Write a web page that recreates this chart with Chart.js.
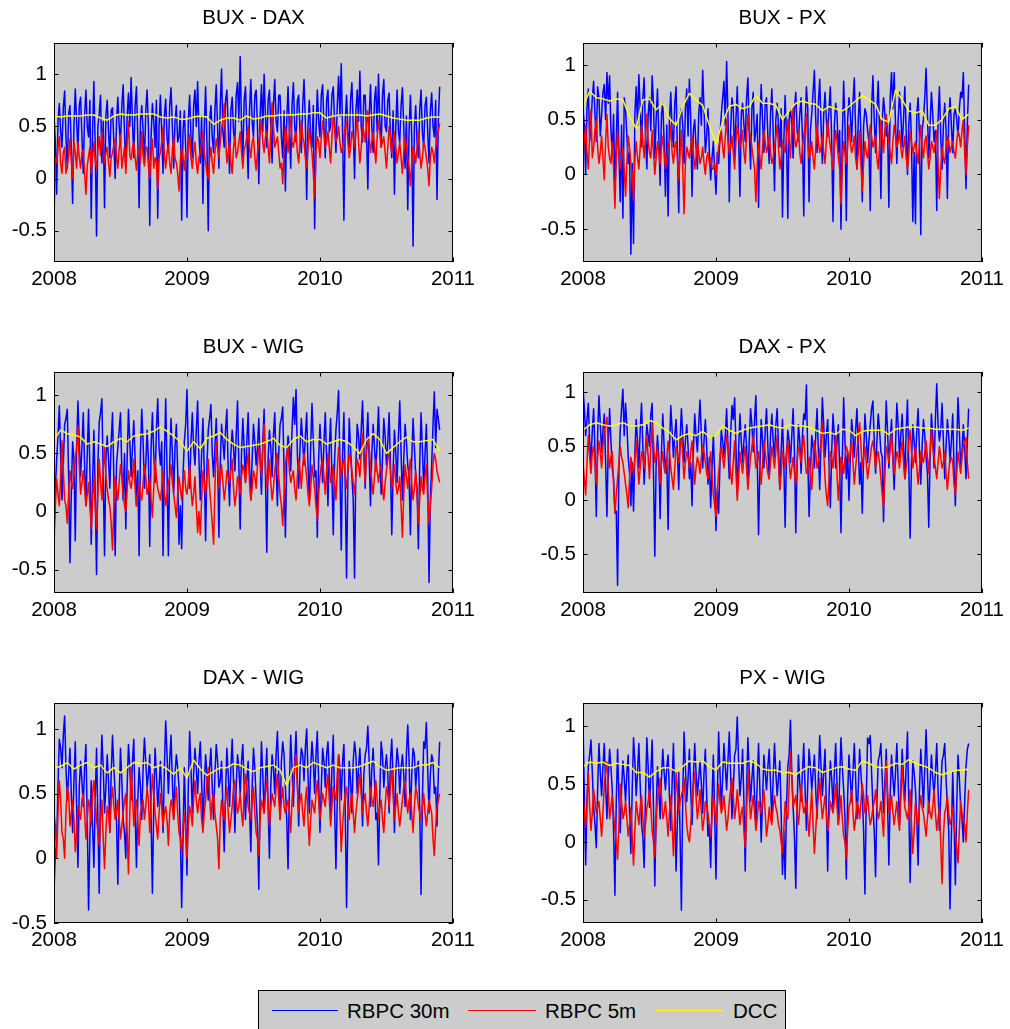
<!DOCTYPE html>
<html>
<head>
<meta charset="utf-8">
<title>RBPC vs DCC</title>
<script src="https://cdn.jsdelivr.net/npm/chart.js@4.4.1/dist/chart.umd.min.js"></script>
<style>
  html, body { margin: 0; padding: 0; background: #fff; width: 1010px; height: 1029px; overflow: hidden; }
  canvas { position: absolute; }
  #legend { position: absolute; left: 258px; top: 990px; width: 526px; height: 38px; border: 1px solid #000; background: #cccccc;
            font-family: "Liberation Sans", Arial, sans-serif; font-size: 20.5px; color: #000; }
  #legend .ln { position: absolute; top: 19px; height: 0; border-top: 1px solid; }
  #legend .tx { position: absolute; top: 8px; line-height: 24px; white-space: nowrap; }
</style>
</head>
<body>
<div id="legend"></div>
<script>
const yearTicks = [2008, 2009, 2010, 2011];
const corrTicks = [-0.5, 0, 0.5, 1];
const seriesNames = ['RBPC 30m', 'RBPC 5m', 'DCC'];
const seriesColors = ['#0000ff', '#ff0000', '#ffff00'];
const pairTitles = ['BUX - DAX', 'BUX - PX', 'BUX - WIG', 'DAX - PX', 'DAX - WIG', 'PX - WIG'];

// sample dates in fractional years: realized series read every 0.01 yr
// (main reads on even hundredths, mid reads in between), DCC every 0.05 yr
const rbpcDates = Array.from({length: 146}, (_, i) => 2008 + i / 50);
const rbpcMidDates = Array.from({length: 145}, (_, i) => 2008.01 + i / 50);
const dccDates = Array.from({length: 59}, (_, j) => 2008 + j / 20);

// BUX - DAX
const buxDax30 = [
  0.60, -0.15, 0.72, 0.30, 0.84, 0.10, 0.70, -0.24, 0.86, 0.25,
  0.78, 0.05, 0.85, 0.40, -0.38, 0.93, -0.55, 0.62, 0.15, -0.28,
  0.75, 0.20, 0.68, 0.00, 0.78, 0.35, 0.90, 0.10, 0.82, 0.97,
  0.20, 0.88, -0.28, 0.70, 0.15, 0.85, -0.45, 0.72, 0.30, -0.38,
  0.80, 0.05, 0.76, 0.25, 0.87, 0.10, 0.70, 0.40, -0.40, 0.65,
  -0.37, 0.80, 0.20, 0.85, 0.93, 0.15, -0.24, 0.88, -0.50, 0.70,
  0.25, 0.90, 0.10, 1.05, 0.30, 0.85, 0.05, 0.78, 0.35, 0.92,
  1.17, 0.20, 0.88, 0.00, 0.95, 0.40, 0.85, -0.05, 0.90, 1.00,
  0.30, 0.85, 0.15, 0.95, 0.45, 0.80, 0.20, -0.12, 0.88, 0.10,
  0.92, 0.35, 0.80, 0.25, 0.95, -0.20, 0.75, 0.30, -0.48, 0.85,
  0.40, 0.90, 0.20, 0.85, 0.50, 0.88, 0.25, 0.98, 1.10, -0.40,
  0.80, 0.30, 0.92, 0.00, 0.85, 1.03, 0.35, 0.80, -0.10, 0.90,
  0.25, 0.88, 1.00, 0.30, 0.95, 0.45, 0.82, 0.20, -0.15, 0.85,
  0.35, 0.87, 0.10, -0.30, 0.80, -0.65, 0.70, 0.20, 0.85, 0.30,
  0.78, 0.15, 0.82, 0.40, -0.20, 0.88
];
const buxDax30Mid = [
  0.35, 0.55, 0.45, 0.68, 0.40, 0.62, 0.30, 0.50, 0.55, 0.70,
  0.40, 0.60, 0.50, 0.75, 0.45, 0.30, 0.50, 0.80, 0.55, 0.60,
  0.45, 0.65, 0.35, 0.55, 0.50, 0.70, 0.45, 0.60, 0.50, 0.55,
  0.70, 0.40, 0.55, 0.45, 0.65, 0.50, 0.40, 0.55, 0.75, 0.50,
  0.45, 0.60, 0.40, 0.70, 0.50, 0.55, 0.35, 0.65, 0.45, 0.30,
  0.55, 0.40, 0.70, 0.50, 0.45, 0.60, 0.50, 0.35, 0.55, 0.40,
  0.65, 0.50, 0.70, 0.45, 0.75, 0.50, 0.65, 0.45, 0.80, 0.55,
  0.50, 0.75, 0.45, 0.65, 0.55, 0.80, 0.50, 0.60, 0.45, 0.60,
  0.75, 0.50, 0.70, 0.55, 0.80, 0.40, 0.65, 0.55, 0.45, 0.70,
  0.50, 0.75, 0.45, 0.70, 0.55, 0.50, 0.40, 0.70, 0.45, 0.55,
  0.80, 0.50, 0.75, 0.45, 0.80, 0.55, 0.70, 0.60, 0.45, 0.55,
  0.45, 0.75, 0.50, 0.65, 0.55, 0.50, 0.80, 0.45, 0.60, 0.50,
  0.75, 0.45, 0.55, 0.80, 0.50, 0.75, 0.40, 0.65, 0.50, 0.45,
  0.70, 0.50, 0.60, 0.45, 0.40, 0.50, 0.35, 0.65, 0.45, 0.70,
  0.45, 0.65, 0.50, 0.75, 0.55
];
const buxDax5 = [
  -0.42, 0.15, 0.40, 0.05, 0.30, 0.12, 0.38, 0.00, 0.25, 0.35,
  0.10, 0.28, -0.15, 0.22, 0.05, 0.35, 0.10, 0.40, 0.45, 0.15,
  0.30, 0.02, 0.25, 0.38, 0.10, 0.42, 0.20, 0.05, 0.55, 0.18,
  0.35, 0.08, 0.28, 0.45, 0.12, 0.30, 0.00, 0.38, 0.20, -0.10,
  0.25, 0.50, 0.10, 0.32, 0.05, 0.40, 0.15, -0.12, 0.30, 0.08,
  0.20, 0.42, 0.10, 0.35, 0.05, 0.25, 0.45, 0.15, 0.00, 0.30,
  0.05, 0.38, 0.20, 0.48, 0.72, 0.15, 0.35, 0.05, 0.40, 0.25,
  0.45, 0.10, 0.32, 0.50, 0.20, 0.40, 0.08, 0.35, 0.55, 0.25,
  0.45, 0.15, 0.73, 0.30, 0.40, 0.10, -0.05, 0.50, 0.25, 0.60,
  0.30, 0.45, 0.15, 0.55, 0.35, 0.10, 0.48, 0.25, -0.18, 0.40,
  0.20, 0.55, 0.30, 0.45, 0.15, 0.60, 0.35, 0.50, 0.25, 0.40,
  0.55, 0.20, 0.45, 0.30, 0.60, 0.15, 0.50, 0.35, 0.65, 0.25,
  0.45, 0.15, 0.55, 0.30, 0.40, 0.10, 0.50, 0.25, 0.45, 0.15,
  0.35, 0.05, 0.40, 0.20, -0.07, 0.30, 0.15, 0.45, 0.10, 0.35,
  0.20, -0.07, 0.30, 0.15, 0.40, 0.53
];
const buxDax5Mid = [
  0.20, 0.30, 0.15, 0.25, 0.05, 0.22, 0.18, 0.35, 0.10, 0.20,
  0.25, 0.05, 0.12, 0.30, 0.20, 0.18, 0.28, 0.22, 0.30, 0.25,
  0.15, 0.20, 0.32, 0.20, 0.28, 0.10, 0.30, 0.35, 0.22, 0.30,
  0.20, 0.25, 0.15, 0.22, 0.30, 0.12, 0.25, 0.10, 0.15, 0.20,
  0.35, 0.22, 0.25, 0.15, 0.28, 0.20, 0.05, 0.18, 0.20, 0.25,
  0.30, 0.20, 0.25, 0.15, 0.20, 0.35, 0.25, 0.05, 0.18, 0.15,
  0.25, 0.30, 0.35, 0.55, 0.40, 0.25, 0.15, 0.30, 0.20, 0.35,
  0.25, 0.28, 0.40, 0.30, 0.35, 0.20, 0.25, 0.45, 0.35, 0.40,
  0.30, 0.45, 0.50, 0.35, 0.25, 0.15, 0.30, 0.40, 0.45, 0.35,
  0.40, 0.25, 0.35, 0.40, 0.20, 0.30, 0.35, 0.05, 0.25, 0.35,
  0.40, 0.45, 0.35, 0.30, 0.40, 0.50, 0.40, 0.35, 0.30, 0.50,
  0.35, 0.30, 0.40, 0.45, 0.35, 0.30, 0.45, 0.50, 0.40, 0.35,
  0.30, 0.40, 0.45, 0.35, 0.25, 0.30, 0.40, 0.35, 0.30, 0.25,
  0.20, 0.25, 0.30, 0.10, 0.15, 0.25, 0.30, 0.25, 0.20, 0.30,
  0.10, 0.20, 0.25, 0.30, 0.45
];
const buxDaxDcc = [
  0.60, 0.59, 0.60, 0.60, 0.60, 0.61, 0.61, 0.58, 0.56, 0.60,
  0.62, 0.61, 0.61, 0.62, 0.62, 0.62, 0.59, 0.58, 0.59, 0.57,
  0.57, 0.59, 0.60, 0.59, 0.52, 0.56, 0.58, 0.58, 0.56, 0.60,
  0.57, 0.58, 0.60, 0.60, 0.61, 0.61, 0.61, 0.62, 0.62, 0.63,
  0.63, 0.58, 0.60, 0.61, 0.61, 0.61, 0.61, 0.60, 0.61, 0.62,
  0.60, 0.58, 0.57, 0.56, 0.56, 0.56, 0.58, 0.59, 0.59
];

// BUX - PX
const buxPx30 = [
  0.60, 0.00, 0.78, 0.45, 0.85, 0.30, 0.70, 0.55, 0.82, 0.93,
  0.90, 0.20, -0.21, 0.75, -0.25, -0.40, 0.60, 0.10, -0.73, -0.63,
  0.80, 0.91, 0.25, 0.88, 0.05, 0.70, 0.90, 0.15, 0.78, -0.10,
  0.65, -0.20, -0.38, 0.75, 0.25, 0.80, -0.35, 0.60, 0.10, 0.78,
  0.87, -0.20, 0.50, 0.05, 0.70, 0.95, 0.20, 0.60, -0.05, 0.30,
  -0.18, 0.10, 0.55, 0.85, 1.03, -0.25, 0.70, 0.15, 0.80, -0.20,
  0.65, 0.30, 0.88, 0.05, 0.75, 0.40, -0.30, 0.82, 0.20, 0.70,
  0.10, 0.78, -0.15, 0.65, 0.25, -0.39, 0.72, -0.40, 0.60, 0.15,
  0.75, 0.30, 0.70, -0.38, 0.80, -0.25, 0.55, 0.95, 0.20, 0.87,
  0.10, 0.75, 0.35, 0.80, -0.43, 0.65, 0.20, -0.50, 0.85, -0.42,
  0.70, 0.30, 0.88, 0.05, 0.75, -0.25, 0.60, 0.40, -0.33, 0.90,
  0.20, 0.85, -0.22, 0.70, 0.35, -0.30, 0.93, 0.93, 0.10, 0.75,
  0.25, 0.80, 0.00, 0.65, -0.43, -0.45, 0.70, -0.55, 0.50, 0.97,
  0.15, 0.75, 0.30, -0.33, 0.80, 0.05, 0.65, -0.22, 0.70, 0.20,
  0.60, 0.35, 0.75, 0.93, -0.13, 0.82
];
const buxPx30Mid = [
  0.45, 0.60, 0.30, 0.70, 0.55, 0.80, 0.35, 0.75, 0.50, 0.65,
  0.40, 0.55, 0.30, 0.20, 0.45, 0.70, 0.35, 0.20, 0.10, 0.55,
  0.45, 0.60, 0.70, 0.35, 0.55, 0.40, 0.65, 0.50, 0.35, 0.55,
  0.30, 0.45, 0.50, 0.40, 0.65, 0.20, 0.55, 0.45, 0.60, 0.35,
  0.50, 0.40, 0.25, 0.55, 0.45, 0.60, 0.35, 0.20, 0.15, 0.05,
  0.20, 0.35, 0.70, 0.45, 0.55, 0.40, 0.60, 0.50, 0.35, 0.55,
  0.45, 0.70, 0.40, 0.60, 0.30, 0.55, 0.45, 0.50, 0.65, 0.35,
  0.55, 0.40, 0.50, 0.45, 0.60, 0.30, 0.35, 0.50, 0.45, 0.60,
  0.40, 0.55, 0.35, 0.45, 0.60, 0.40, 0.75, 0.50, 0.65, 0.45,
  0.55, 0.50, 0.60, 0.30, 0.45, 0.55, 0.40, 0.35, 0.45, 0.50,
  0.55, 0.65, 0.40, 0.50, 0.35, 0.45, 0.55, 0.30, 0.60, 0.50,
  0.60, 0.40, 0.50, 0.55, 0.45, 0.70, 0.60, 0.45, 0.50, 0.55,
  0.50, 0.40, 0.45, 0.30, 0.20, 0.55, 0.35, 0.40, 0.70, 0.55,
  0.45, 0.55, 0.40, 0.50, 0.35, 0.45, 0.40, 0.50, 0.45, 0.55,
  0.50, 0.60, 0.70, 0.40, 0.45
];
const buxPx5 = [
  0.20, 0.45, 0.05, 0.59, 0.25, 0.50, 0.10, 0.35, -0.05, 0.55,
  0.15, 0.30, -0.31, 0.40, 0.05, 0.25, -0.20, 0.35, 0.10, -0.24,
  0.30, 0.05, 0.45, 0.15, 0.55, 0.20, 0.40, 0.00, 0.30, 0.10,
  0.35, 0.05, 0.25, 0.45, 0.10, 0.30, -0.05, 0.40, -0.36, 0.25,
  0.15, 0.35, 0.05, 0.30, 0.10, 0.25, 0.00, 0.20, 0.15, 0.05,
  0.00, 0.25, 0.40, 0.15, 0.50, 0.20, 0.35, 0.05, 0.45, 0.25,
  0.40, 0.10, 0.55, 0.35, 0.15, -0.25, 0.30, 0.05, 0.40, 0.20,
  0.35, 0.10, 0.25, 0.45, 0.05, 0.30, 0.20, 0.50, 0.15, 0.62,
  0.25, 0.40, 0.10, 0.35, 0.55, 0.15, 0.30, 0.05, 0.45, 0.20,
  0.35, 0.10, 0.50, 0.25, 0.05, 0.40, 0.15, -0.27, 0.30, 0.10,
  0.45, 0.20, 0.35, 0.05, 0.40, -0.15, 0.30, 0.15, 0.45, 0.25,
  0.35, 0.05, 0.50, 0.20, 0.55, 0.30, 0.10, 0.45, 0.25, 0.40,
  0.15, 0.35, 0.05, 0.40, 0.20, 0.30, 0.10, 0.45, 0.15, 0.35,
  0.05, 0.30, 0.20, 0.40, -0.22, 0.25, 0.10, 0.35, 0.20, 0.30,
  0.15, 0.40, 0.25, 0.50, 0.00, 0.45
];
const buxPx5Mid = [
  0.30, 0.20, 0.35, 0.15, 0.40, 0.25, 0.20, 0.15, 0.30, 0.25,
  0.10, 0.05, 0.15, 0.20, 0.15, 0.05, 0.10, 0.25, 0.00, 0.15,
  0.15, 0.25, 0.30, 0.35, 0.30, 0.15, 0.20, 0.15, 0.20, 0.25,
  0.20, 0.15, 0.30, 0.20, 0.25, 0.15, 0.20, 0.05, 0.10, 0.20,
  0.25, 0.20, 0.15, 0.20, 0.15, 0.10, 0.15, 0.10, 0.05, 0.10,
  0.15, 0.30, 0.25, 0.35, 0.30, 0.25, 0.20, 0.30, 0.35, 0.30,
  0.20, 0.35, 0.40, 0.25, 0.05, 0.10, 0.15, 0.25, 0.30, 0.25,
  0.20, 0.15, 0.35, 0.25, 0.15, 0.25, 0.35, 0.30, 0.40, 0.35,
  0.30, 0.20, 0.25, 0.45, 0.30, 0.20, 0.15, 0.25, 0.30, 0.25,
  0.20, 0.30, 0.35, 0.15, 0.25, 0.30, 0.05, 0.10, 0.20, 0.25,
  0.30, 0.25, 0.15, 0.20, 0.10, 0.10, 0.20, 0.30, 0.35, 0.30,
  0.15, 0.25, 0.35, 0.40, 0.40, 0.20, 0.30, 0.35, 0.30, 0.25,
  0.25, 0.15, 0.20, 0.30, 0.25, 0.20, 0.30, 0.25, 0.30, 0.20,
  0.15, 0.25, 0.30, 0.10, 0.05, 0.15, 0.25, 0.30, 0.25, 0.20,
  0.30, 0.35, 0.40, 0.20, 0.25
];
const buxPxDcc = [
  0.62, 0.76, 0.70, 0.69, 0.67, 0.69, 0.68, 0.53, 0.42, 0.68,
  0.69, 0.59, 0.65, 0.51, 0.45, 0.62, 0.74, 0.68, 0.63, 0.45,
  0.28, 0.48, 0.62, 0.64, 0.60, 0.62, 0.72, 0.65, 0.65, 0.63,
  0.50, 0.58, 0.65, 0.67, 0.65, 0.64, 0.58, 0.62, 0.60, 0.58,
  0.62, 0.67, 0.72, 0.68, 0.64, 0.50, 0.48, 0.77, 0.68, 0.58,
  0.56, 0.58, 0.45, 0.45, 0.50, 0.60, 0.62, 0.50, 0.55
];

// BUX - WIG
const buxWig30 = [
  -0.34, 0.45, 0.91, 0.10, 0.75, 0.88, -0.44, 0.60, -0.25, 0.95,
  0.30, 0.85, 0.05, 0.88, -0.28, 0.70, -0.54, 0.77, 0.97, -0.38,
  0.65, 0.20, 0.85, -0.38, 0.55, 0.85, 0.10, -0.15, 0.88, 0.30,
  0.78, 0.05, -0.38, 0.88, 0.20, 0.70, -0.30, 0.85, 0.25, 0.97,
  0.40, -0.38, 0.97, -0.38, 0.80, 0.15, 0.75, -0.28, -0.32, 0.60,
  1.05, 0.20, 0.85, 0.40, 0.95, 0.10, 0.80, -0.25, 0.70, 0.92,
  0.30, 0.80, -0.22, 0.75, 0.45, 0.88, 0.05, 0.70, 0.35, 0.95,
  -0.15, 0.80, 0.25, 0.85, 0.10, 0.75, 0.40, 0.80, 0.15, 0.88,
  -0.35, 0.70, 0.30, 0.85, 0.05, 0.75, 0.90, -0.22, 0.65, 0.35,
  0.98, 1.05, 0.20, 0.80, 0.40, 0.85, 0.10, 0.93, 0.30, -0.22,
  0.75, 0.25, 0.85, 0.05, 0.80, -0.20, 0.70, 1.04, -0.33, 0.85,
  -0.57, 0.80, 0.30, -0.57, 0.75, 0.45, 0.95, 0.20, 0.85, 0.05,
  0.75, 0.35, 0.90, 0.15, 0.80, 0.40, 0.85, -0.20, 0.70, 0.25,
  0.95, 0.10, 0.75, 0.40, -0.20, 0.80, 0.30, -0.32, 0.85, 0.20,
  0.75, -0.61, 0.40, 1.03, 0.88, 0.70
];
const buxWig30Mid = [
  0.20, 0.65, 0.50, 0.40, 0.80, 0.30, 0.15, 0.45, 0.55, 0.60,
  0.55, 0.40, 0.50, 0.35, 0.25, 0.15, 0.40, 0.85, 0.30, 0.45,
  0.45, 0.60, 0.30, 0.40, 0.70, 0.35, 0.50, 0.45, 0.60, 0.55,
  0.45, 0.35, 0.50, 0.60, 0.40, 0.45, 0.55, 0.50, 0.70, 0.55,
  0.60, 0.45, 0.35, 0.40, 0.50, 0.55, 0.35, 0.05, 0.30, 0.75,
  0.50, 0.60, 0.55, 0.70, 0.45, 0.50, 0.35, 0.40, 0.80, 0.50,
  0.55, 0.45, 0.40, 0.60, 0.70, 0.35, 0.50, 0.55, 0.65, 0.40,
  0.50, 0.55, 0.60, 0.40, 0.45, 0.60, 0.55, 0.45, 0.60, 0.30,
  0.45, 0.55, 0.65, 0.40, 0.50, 0.80, 0.35, 0.45, 0.55, 0.70,
  0.75, 0.50, 0.55, 0.60, 0.65, 0.40, 0.55, 0.60, 0.35, 0.45,
  0.50, 0.60, 0.45, 0.55, 0.30, 0.45, 0.85, 0.40, 0.50, 0.20,
  0.30, 0.55, 0.10, 0.40, 0.65, 0.70, 0.55, 0.60, 0.45, 0.50,
  0.55, 0.60, 0.50, 0.45, 0.65, 0.60, 0.40, 0.35, 0.50, 0.65,
  0.50, 0.45, 0.60, 0.30, 0.45, 0.55, 0.20, 0.40, 0.55, 0.50,
  0.30, 0.10, 0.75, 0.55, 0.80
];
const buxWig5 = [
  -0.15, 0.28, 0.05, 0.61, 0.10, -0.10, 0.35, 0.20, 0.45, 0.74,
  0.15, 0.35, 0.05, 0.25, -0.15, 0.30, -0.15, 0.45, 0.10, 0.55,
  0.20, 0.05, -0.33, 0.30, 0.10, 0.40, 0.15, 0.00, 0.35, 0.20,
  0.45, 0.05, 0.25, 0.10, 0.40, 0.15, 0.30, -0.05, 0.45, 0.20,
  0.10, 0.35, 0.05, 0.25, 0.40, 0.15, -0.05, 0.30, 0.10, 0.35,
  0.15, 0.40, 0.05, 0.30, -0.18, -0.20, 0.35, 0.15, 0.45, 0.05,
  -0.28, 0.60, 0.20, 0.40, 0.10, 0.35, 0.25, 0.45, 0.05, 0.30,
  0.15, 0.40, 0.25, 0.50, 0.10, 0.35, 0.20, 0.55, 0.30, 0.75,
  0.20, 0.45, 0.10, 0.35, 0.50, 0.15, -0.12, 0.40, 0.55, 0.25,
  0.35, 0.10, 0.45, 0.20, 0.50, 0.30, 0.05, 0.40, 0.20, -0.08,
  0.30, 0.45, 0.15, 0.50, 0.25, 0.40, 0.10, 0.55, 0.30, 0.45,
  0.20, 0.50, 0.35, 0.15, 0.45, 0.30, 0.67, 0.25, 0.63, 0.40,
  0.15, 0.45, 0.25, 0.40, 0.10, 0.35, 0.50, 0.20, 0.40, 0.15,
  0.30, -0.22, 0.40, 0.20, 0.45, 0.10, 0.35, -0.10, 0.30, 0.15,
  0.40, -0.10, 0.20, 0.50, 0.35, 0.25
];
const buxWig5Mid = [
  0.05, 0.15, 0.30, 0.35, 0.05, 0.15, 0.25, 0.30, 0.55, 0.40,
  0.25, 0.20, 0.15, 0.05, 0.10, 0.05, 0.15, 0.25, 0.35, 0.30,
  0.10, -0.10, 0.05, 0.20, 0.25, 0.30, 0.05, 0.20, 0.25, 0.30,
  0.20, 0.15, 0.15, 0.25, 0.30, 0.20, 0.10, 0.20, 0.30, 0.15,
  0.20, 0.15, 0.15, 0.30, 0.25, 0.05, 0.15, 0.20, 0.25, 0.20,
  0.25, 0.20, 0.15, 0.05, 0.00, 0.10, 0.25, 0.30, 0.20, -0.10,
  0.20, 0.40, 0.30, 0.25, 0.20, 0.30, 0.35, 0.20, 0.15, 0.25,
  0.30, 0.35, 0.40, 0.25, 0.20, 0.30, 0.40, 0.45, 0.55, 0.40,
  0.30, 0.25, 0.20, 0.45, 0.30, 0.05, 0.15, 0.50, 0.35, 0.30,
  0.20, 0.30, 0.35, 0.40, 0.40, 0.15, 0.20, 0.30, 0.05, 0.15,
  0.40, 0.30, 0.35, 0.40, 0.30, 0.25, 0.35, 0.45, 0.40, 0.30,
  0.35, 0.45, 0.25, 0.30, 0.40, 0.50, 0.45, 0.50, 0.55, 0.25,
  0.30, 0.35, 0.35, 0.20, 0.25, 0.45, 0.35, 0.30, 0.25, 0.20,
  0.05, 0.15, 0.30, 0.35, 0.25, 0.20, 0.15, 0.10, 0.20, 0.30,
  0.10, 0.05, 0.40, 0.45, 0.30
];
const buxWigDcc = [
  0.62, 0.70, 0.67, 0.66, 0.64, 0.58, 0.60, 0.58, 0.56, 0.60,
  0.63, 0.60, 0.65, 0.66, 0.67, 0.69, 0.73, 0.69, 0.65, 0.60,
  0.52, 0.60, 0.54, 0.63, 0.65, 0.68, 0.62, 0.58, 0.55, 0.56,
  0.57, 0.58, 0.60, 0.63, 0.57, 0.55, 0.62, 0.65, 0.60, 0.62,
  0.62, 0.58, 0.60, 0.62, 0.60, 0.56, 0.50, 0.62, 0.67, 0.62,
  0.50, 0.55, 0.60, 0.64, 0.60, 0.60, 0.61, 0.62, 0.52
];

// DAX - PX
const daxPx30 = [
  1.05, 0.60, 0.90, 0.35, 0.85, -0.15, 0.97, 0.45, 0.80, -0.15,
  0.85, 0.30, -0.12, -0.79, 0.65, 1.03, 0.90, 0.40, -0.05, -0.10,
  0.75, 0.30, 0.90, 0.15, 0.70, 0.50, 0.90, -0.52, 0.60, -0.17,
  0.80, 0.25, -0.27, 0.88, 0.40, 0.75, 0.10, 0.85, 0.35, 0.70,
  0.20, -0.05, 0.80, 0.45, 0.93, 0.30, 0.75, 0.15, -0.07, 0.60,
  -0.28, -0.12, 0.65, 0.40, 0.85, 0.20, 0.88, 0.95, 0.05, 0.80,
  0.35, 0.70, 0.15, 0.85, 0.45, 0.97, -0.32, 0.75, 0.30, 0.85,
  0.20, 0.80, 0.40, 0.85, 0.10, 0.75, -0.25, 0.65, 0.35, 0.85,
  -0.30, 0.70, 0.25, 0.80, 1.07, -0.15, 0.60, 0.30, 0.85, 0.10,
  0.95, 0.40, 0.75, -0.07, 0.80, 0.30, 0.70, -0.30, 0.95, 0.20,
  0.00, 0.75, 0.40, 0.85, 0.15, -0.12, 0.80, 0.35, 0.70, 0.92,
  0.25, 0.80, 0.45, -0.20, 0.92, 0.30, 0.75, 0.10, 0.90, 0.40,
  0.80, 0.20, 0.93, -0.35, 0.70, 0.35, 0.85, 0.15, 0.75, 0.40,
  -0.25, 0.80, 0.30, 1.08, 0.55, 0.90, 0.20, 0.75, 0.35, 0.80,
  -0.05, 0.95, 0.30, 0.70, 0.20, 0.85
];
const daxPx30Mid = [
  0.85, 0.75, 0.55, 0.65, 0.45, 0.60, 0.70, 0.65, 0.35, 0.50,
  0.55, 0.20, -0.10, 0.30, 0.85, 0.60, 0.70, 0.25, 0.35, 0.45,
  0.55, 0.65, 0.50, 0.45, 0.60, 0.80, 0.25, 0.35, 0.40, 0.45,
  0.50, 0.40, 0.45, 0.65, 0.60, 0.45, 0.55, 0.60, 0.55, 0.50,
  0.35, 0.45, 0.60, 0.70, 0.60, 0.55, 0.50, 0.40, 0.30, 0.25,
  0.10, 0.35, 0.55, 0.60, 0.50, 0.60, 0.75, 0.50, 0.45, 0.55,
  0.55, 0.50, 0.55, 0.70, 0.75, 0.40, 0.30, 0.55, 0.65, 0.50,
  0.60, 0.55, 0.70, 0.50, 0.45, 0.35, 0.40, 0.55, 0.60, 0.45,
  0.35, 0.55, 0.60, 0.75, 0.40, 0.25, 0.50, 0.60, 0.45, 0.55,
  0.70, 0.60, 0.35, 0.45, 0.60, 0.55, 0.30, 0.40, 0.55, 0.45,
  0.40, 0.60, 0.65, 0.50, 0.35, 0.40, 0.60, 0.55, 0.85, 0.55,
  0.55, 0.65, 0.40, 0.45, 0.65, 0.55, 0.40, 0.50, 0.70, 0.60,
  0.50, 0.65, 0.30, 0.35, 0.55, 0.65, 0.45, 0.50, 0.60, 0.25,
  0.40, 0.60, 0.75, 0.70, 0.65, 0.55, 0.50, 0.60, 0.55, 0.30,
  0.50, 0.65, 0.45, 0.50, 0.55
];
const daxPx5 = [
  0.35, 0.05, 0.60, 0.25, 0.50, 0.15, 0.55, 0.30, 0.65, 0.77,
  0.30, 0.45, -0.12, 0.20, 0.50, 0.35, 0.15, -0.07, 0.40, 0.25,
  0.55, 0.15, 0.45, 0.30, 0.60, 0.20, 0.70, 0.35, 0.50, 0.15,
  0.45, 0.25, 0.55, 0.30, 0.10, 0.50, 0.35, 0.60, 0.20, 0.45,
  0.30, 0.55, 0.15, 0.40, 0.25, 0.50, 0.35, 0.20, 0.45, 0.05,
  -0.15, 0.25, 0.50, 0.30, 0.60, 0.40, 0.15, 0.55, 0.00, 0.45,
  0.25, 0.50, 0.10, 0.40, 0.60, 0.30, 0.45, 0.15, 0.55, 0.35,
  0.20, 0.50, 0.30, 0.60, 0.10, 0.45, 0.30, 0.55, 0.20, 0.40,
  0.15, 0.50, 0.35, 0.60, 0.25, 0.40, 0.10, 0.55, 0.30, 0.45,
  0.72, 0.20, -0.05, 0.45, 0.30, 0.60, 0.00, 0.40, 0.25, 0.50,
  0.35, 0.55, 0.15, 0.45, 0.72, 0.30, 0.50, 0.20, 0.40, 0.55,
  0.30, 0.45, 0.20, -0.07, 0.50, 0.35, 0.60, 0.25, 0.45, 0.30,
  0.55, 0.20, 0.40, 0.65, 0.30, 0.50, 0.15, 0.45, 0.35, 0.55,
  0.25, 0.65, 0.40, 0.20, 0.50, 0.30, 0.45, 0.10, 0.40, 0.35,
  0.05, 0.45, 0.25, 0.50, 0.58, 0.20
];
const daxPx5Mid = [
  0.20, 0.35, 0.40, 0.45, 0.35, 0.40, 0.45, 0.50, 0.70, 0.45,
  0.40, 0.15, 0.05, 0.35, 0.40, 0.25, 0.05, 0.20, 0.30, 0.40,
  0.35, 0.30, 0.40, 0.45, 0.40, 0.50, 0.55, 0.40, 0.30, 0.35,
  0.30, 0.40, 0.45, 0.20, 0.30, 0.45, 0.50, 0.40, 0.35, 0.40,
  0.45, 0.35, 0.30, 0.35, 0.40, 0.45, 0.25, 0.30, 0.25, -0.05,
  0.10, 0.40, 0.40, 0.45, 0.50, 0.25, 0.35, 0.25, 0.20, 0.35,
  0.40, 0.30, 0.25, 0.50, 0.45, 0.35, 0.30, 0.35, 0.45, 0.25,
  0.35, 0.40, 0.45, 0.35, 0.25, 0.40, 0.45, 0.35, 0.30, 0.25,
  0.35, 0.45, 0.50, 0.40, 0.30, 0.25, 0.35, 0.45, 0.35, 0.55,
  0.45, 0.05, 0.20, 0.40, 0.45, 0.25, 0.20, 0.35, 0.40, 0.45,
  0.45, 0.35, 0.30, 0.60, 0.50, 0.40, 0.35, 0.30, 0.50, 0.45,
  0.40, 0.35, 0.05, 0.25, 0.45, 0.50, 0.40, 0.35, 0.40, 0.45,
  0.35, 0.30, 0.55, 0.45, 0.40, 0.30, 0.30, 0.40, 0.45, 0.40,
  0.45, 0.50, 0.30, 0.35, 0.40, 0.35, 0.25, 0.25, 0.40, 0.15,
  0.25, 0.35, 0.40, 0.55, 0.35
];
const daxPxDcc = [
  0.65, 0.70, 0.72, 0.70, 0.69, 0.70, 0.72, 0.69, 0.69, 0.70,
  0.74, 0.72, 0.67, 0.63, 0.56, 0.60, 0.62, 0.60, 0.64, 0.59,
  0.60, 0.69, 0.65, 0.62, 0.65, 0.67, 0.68, 0.69, 0.70, 0.68,
  0.67, 0.70, 0.69, 0.69, 0.68, 0.65, 0.62, 0.63, 0.61, 0.66,
  0.65, 0.60, 0.64, 0.65, 0.65, 0.65, 0.61, 0.66, 0.67, 0.68,
  0.68, 0.67, 0.67, 0.66, 0.66, 0.66, 0.66, 0.65, 0.67
];

// DAX - WIG
const daxWig30 = [
  -0.27, 0.10, 0.92, 0.70, 1.10, 0.45, 0.85, 0.20, 0.90, -0.07,
  0.75, 0.40, 0.88, -0.40, 0.60, -0.07, 0.85, -0.27, 0.95, 0.35,
  0.80, 0.20, 0.95, 0.50, -0.20, 0.85, 0.30, 0.00, 0.88, 0.45,
  0.92, -0.07, 0.70, 0.30, 0.93, 0.55, 0.80, -0.27, 0.85, 0.40,
  0.75, 0.20, 1.06, 0.50, 0.95, 0.30, 0.80, 0.55, -0.38, 0.70,
  -0.13, 0.98, 0.35, 0.85, 0.50, 0.90, 0.25, 0.80, 0.45, 0.85,
  0.30, 0.88, 0.55, 0.75, 0.05, 0.85, 0.40, 0.92, 0.20, 0.80,
  0.50, 0.88, 0.30, 0.75, 0.05, 0.85, 0.45, -0.24, 0.90, 0.35,
  0.85, 0.00, 0.80, 0.50, 0.98, 0.30, 0.90, 0.55, -0.08, 0.95,
  0.40, 0.98, 0.25, 0.85, 0.60, 1.00, 0.35, 0.90, 0.50, 0.98,
  0.20, 0.85, 0.55, 0.90, 0.30, 0.95, -0.08, 0.80, 0.45, 0.88,
  -0.38, 0.75, 0.35, 0.90, 0.50, 0.85, 0.25, 0.80, 1.02, 0.40,
  0.85, 0.30, -0.05, 0.90, 0.55, 0.80, 0.35, 0.92, 0.20, 0.85,
  0.50, 0.80, 0.40, 1.03, 0.30, 0.85, 0.55, 0.75, -0.28, 0.90,
  1.05, 0.35, 0.80, 0.50, 0.25, 0.90
];
const daxWig30Mid = [
  0.05, 0.55, 0.85, 0.95, 0.70, 0.65, 0.50, 0.60, 0.40, 0.55,
  0.60, 0.70, 0.30, 0.15, 0.25, 0.45, 0.30, 0.60, 0.70, 0.55,
  0.60, 0.65, 0.70, 0.30, 0.45, 0.60, 0.20, 0.55, 0.70, 0.75,
  0.35, 0.45, 0.55, 0.70, 0.75, 0.65, 0.30, 0.40, 0.65, 0.55,
  0.50, 0.70, 0.80, 0.75, 0.60, 0.65, 0.70, 0.20, 0.15, 0.30,
  0.55, 0.70, 0.65, 0.70, 0.75, 0.60, 0.55, 0.65, 0.70, 0.55,
  0.65, 0.75, 0.60, 0.40, 0.50, 0.65, 0.70, 0.60, 0.55, 0.70,
  0.75, 0.55, 0.60, 0.40, 0.55, 0.70, 0.25, 0.50, 0.65, 0.60,
  0.40, 0.55, 0.70, 0.80, 0.65, 0.75, 0.80, 0.30, 0.55, 0.70,
  0.75, 0.60, 0.70, 0.80, 0.85, 0.65, 0.70, 0.75, 0.80, 0.60,
  0.55, 0.75, 0.80, 0.65, 0.70, 0.40, 0.45, 0.70, 0.75, 0.35,
  0.30, 0.60, 0.75, 0.80, 0.70, 0.60, 0.65, 0.85, 0.75, 0.70,
  0.60, 0.35, 0.50, 0.80, 0.70, 0.65, 0.75, 0.60, 0.65, 0.75,
  0.70, 0.65, 0.80, 0.75, 0.65, 0.80, 0.70, 0.40, 0.45, 0.85,
  0.70, 0.65, 0.75, 0.55, 0.65
];
const daxWig5 = [
  0.35, 0.00, 0.60, 0.20, 0.00, 0.55, 0.25, 0.45, 0.05, 0.40,
  0.30, 0.50, 0.15, 0.45, 0.25, 0.60, 0.30, 0.10, 0.45, -0.08,
  0.40, 0.20, 0.55, 0.30, 0.45, 0.15, 0.35, 0.50, -0.12, 0.70,
  0.25, 0.45, 0.10, 0.40, 0.30, 0.55, 0.20, 0.65, 0.35, 0.15,
  0.50, 0.25, 0.40, 0.10, 0.45, 0.30, 0.55, 0.20, 0.05, 0.35,
  0.00, 0.40, 0.25, 0.60, 0.35, 0.50, 0.20, 0.45, 0.70, 0.30,
  0.50, 0.25, -0.08, 0.45, 0.30, 0.55, 0.20, 0.40, 0.60, 0.35,
  0.50, 0.25, 0.65, 0.40, 0.30, 0.55, 0.20, 0.02, 0.45, 0.35,
  0.60, 0.25, 0.50, 0.40, 0.65, 0.30, 0.55, 0.35, 0.45, 0.20,
  0.60, 0.80, 0.35, 0.50, 0.25, 0.55, 0.10, 0.45, 0.35, 0.60,
  0.30, 0.50, 0.40, 0.65, 0.25, 0.55, 0.45, 0.80, 0.05, 0.40,
  0.55, 0.30, 0.50, 0.20, 0.45, 0.65, 0.35, 0.50, 0.25, 0.55,
  0.40, 0.60, 0.30, 0.45, 0.20, 0.55, 0.40, 0.70, 0.30, 0.50,
  0.25, 0.45, 0.60, 0.35, 0.50, 0.20, 0.55, 0.40, 0.30, 0.50,
  0.25, 0.45, 0.35, 0.02, 0.40, 0.50
];
const daxWig5Mid = [
  0.25, 0.35, 0.45, 0.15, 0.35, 0.50, 0.35, 0.30, 0.20, 0.35,
  0.45, 0.35, 0.30, 0.40, 0.50, 0.45, 0.20, 0.30, 0.15, 0.20,
  0.35, 0.45, 0.40, 0.35, 0.30, 0.25, 0.45, 0.20, 0.35, 0.50,
  0.40, 0.30, 0.35, 0.45, 0.40, 0.45, 0.45, 0.50, 0.25, 0.35,
  0.40, 0.35, 0.30, 0.35, 0.40, 0.45, 0.35, 0.15, 0.25, 0.20,
  0.25, 0.35, 0.45, 0.45, 0.45, 0.30, 0.35, 0.60, 0.50, 0.45,
  0.35, 0.15, 0.30, 0.35, 0.45, 0.35, 0.30, 0.55, 0.45, 0.40,
  0.35, 0.50, 0.55, 0.35, 0.45, 0.35, 0.15, 0.30, 0.40, 0.50,
  0.45, 0.40, 0.45, 0.55, 0.45, 0.45, 0.40, 0.40, 0.35, 0.45,
  0.70, 0.55, 0.45, 0.35, 0.45, 0.30, 0.30, 0.40, 0.50, 0.45,
  0.40, 0.45, 0.55, 0.45, 0.40, 0.50, 0.65, 0.35, 0.25, 0.50,
  0.40, 0.45, 0.35, 0.35, 0.55, 0.50, 0.45, 0.35, 0.40, 0.45,
  0.50, 0.45, 0.40, 0.30, 0.40, 0.50, 0.55, 0.50, 0.40, 0.35,
  0.35, 0.55, 0.45, 0.45, 0.35, 0.40, 0.50, 0.35, 0.40, 0.35,
  0.35, 0.40, 0.15, 0.25, 0.45
];
const daxWigDcc = [
  0.70, 0.71, 0.74, 0.69, 0.72, 0.74, 0.70, 0.72, 0.66, 0.70,
  0.66, 0.70, 0.74, 0.73, 0.74, 0.70, 0.72, 0.69, 0.65, 0.70,
  0.62, 0.76, 0.69, 0.64, 0.67, 0.70, 0.70, 0.73, 0.72, 0.69,
  0.67, 0.70, 0.71, 0.72, 0.68, 0.56, 0.70, 0.72, 0.70, 0.74,
  0.72, 0.70, 0.72, 0.70, 0.70, 0.70, 0.71, 0.73, 0.75, 0.71,
  0.68, 0.69, 0.70, 0.70, 0.70, 0.72, 0.72, 0.74, 0.70
];

// PX - WIG
const pxWig30 = [
  1.05, -0.20, 0.65, 0.88, 0.30, -0.05, 0.85, 0.40, 0.85, 0.20,
  0.80, 0.45, -0.46, 0.80, 0.08, 0.70, 0.35, 0.75, -0.10, 0.90,
  0.40, 0.85, 0.15, -0.22, 0.90, 0.30, 0.88, -0.38, 0.65, 0.20,
  0.80, 0.45, 0.75, 0.10, 0.85, -0.25, 0.60, -0.59, 0.95, 0.35,
  0.80, 0.15, 0.85, 0.40, 0.70, 0.25, 0.80, 0.05, -0.22, 0.75,
  -0.32, 0.95, 0.30, 0.85, 0.45, 0.95, 0.20, 0.75, 1.08, 0.40,
  0.80, -0.25, 0.90, 0.35, 0.70, 0.15, 0.85, 0.00, 0.75, 0.45,
  0.80, 0.20, 0.85, 0.40, 0.70, -0.28, -0.32, 0.65, 1.05, 0.30,
  -0.40, 0.75, 0.35, 0.85, 0.10, 0.80, 0.45, 0.75, 0.20, 0.92,
  0.40, 0.80, -0.25, 0.70, 0.30, 0.85, 0.15, 0.90, 0.45, -0.32,
  0.75, 0.35, 0.85, 0.20, 0.80, 0.40, -0.45, 0.90, 0.92, 0.30,
  -0.30, 0.70, 0.85, 0.25, 0.80, -0.20, 0.75, 0.40, 0.85, 0.15,
  0.80, 0.35, 0.95, -0.35, 0.70, 0.45, -0.20, 0.80, 0.30, 0.97,
  0.25, 0.75, 0.40, 0.85, 0.10, 0.70, 0.85, 0.30, -0.58, 0.60,
  -0.37, 0.75, 0.30, 0.00, 0.65, 0.85
];
const pxWig30Mid = [
  0.40, 0.35, 0.75, 0.60, 0.15, 0.45, 0.60, 0.65, 0.50, 0.55,
  0.65, 0.10, 0.35, 0.40, 0.45, 0.55, 0.60, 0.25, 0.45, 0.70,
  0.60, 0.50, 0.05, 0.40, 0.65, 0.60, 0.30, 0.25, 0.45, 0.55,
  0.60, 0.65, 0.40, 0.50, 0.35, 0.20, 0.05, 0.40, 0.65, 0.55,
  0.45, 0.55, 0.60, 0.55, 0.50, 0.60, 0.40, 0.15, 0.35, 0.25,
  0.40, 0.60, 0.55, 0.65, 0.70, 0.60, 0.45, 0.80, 0.70, 0.55,
  0.35, 0.45, 0.60, 0.55, 0.40, 0.50, 0.45, 0.35, 0.60, 0.65,
  0.50, 0.55, 0.60, 0.55, 0.25, 0.10, 0.30, 0.75, 0.60, 0.05,
  0.30, 0.50, 0.60, 0.45, 0.50, 0.65, 0.60, 0.45, 0.55, 0.65,
  0.60, 0.30, 0.40, 0.55, 0.60, 0.50, 0.55, 0.65, 0.20, 0.40,
  0.55, 0.60, 0.55, 0.45, 0.60, 0.10, 0.35, 0.85, 0.60, 0.10,
  0.35, 0.75, 0.55, 0.50, 0.35, 0.40, 0.55, 0.60, 0.50, 0.45,
  0.55, 0.65, 0.30, 0.30, 0.60, 0.20, 0.45, 0.55, 0.65, 0.60,
  0.50, 0.55, 0.60, 0.45, 0.40, 0.75, 0.55, 0.10, 0.05, 0.20,
  0.30, 0.55, 0.20, 0.35, 0.80
];
const pxWig5 = [
  0.40, 0.13, 0.60, 0.10, 0.45, 0.25, 0.35, 0.05, 0.50, 0.69,
  0.20, 0.40, 0.10, -0.15, 0.50, 0.20, 0.35, 0.05, 0.30, -0.20,
  0.35, 0.15, 0.40, 0.05, 0.30, 0.45, 0.10, -0.13, 0.40, 0.55,
  0.20, 0.35, 0.05, 0.40, -0.12, 0.60, 0.25, 0.40, 0.55, 0.15,
  0.00, 0.35, 0.60, 0.20, 0.45, 0.10, 0.35, 0.25, 0.05, 0.40,
  0.15, 0.50, 0.25, 0.40, 0.10, 0.35, 0.55, 0.20, 0.45, 0.15,
  0.30, -0.05, 0.62, 0.20, 0.40, 0.10, 0.35, 0.25, 0.45, 0.05,
  0.30, 0.15, 0.40, 0.25, 0.10, -0.10, 0.35, 0.20, 0.78, 0.30,
  0.40, 0.15, 0.50, 0.25, 0.35, 0.05, 0.45, -0.10, 0.30, 0.55,
  0.20, 0.40, 0.10, 0.35, 0.25, 0.50, 0.15, 0.40, 0.05, -0.15,
  0.30, 0.45, 0.10, 0.35, 0.20, 0.50, 0.25, 0.40, 0.15, 0.30,
  0.45, 0.20, 0.35, 0.05, 0.70, 0.25, 0.40, 0.15, 0.35, 0.10,
  0.65, 0.30, 0.20, 0.45, -0.10, 0.35, 0.15, 0.40, 0.25, 0.05,
  0.35, 0.20, 0.45, 0.10, 0.30, -0.36, 0.25, 0.40, 0.15, 0.30,
  0.05, -0.18, 0.35, 0.20, 0.00, 0.45
];
const pxWig5Mid = [
  0.25, 0.35, 0.30, 0.25, 0.35, 0.30, 0.20, 0.25, 0.60, 0.45,
  0.30, 0.25, 0.00, 0.15, 0.35, 0.25, 0.20, 0.15, 0.05, 0.10,
  0.25, 0.30, 0.20, 0.15, 0.35, 0.30, 0.00, 0.15, 0.45, 0.40,
  0.25, 0.20, 0.25, 0.15, 0.20, 0.45, 0.35, 0.45, 0.35, 0.05,
  0.15, 0.50, 0.40, 0.30, 0.25, 0.20, 0.30, 0.15, 0.20, 0.30,
  0.30, 0.35, 0.30, 0.25, 0.20, 0.45, 0.40, 0.30, 0.30, 0.25,
  0.10, 0.25, 0.40, 0.30, 0.25, 0.20, 0.30, 0.35, 0.25, 0.15,
  0.20, 0.30, 0.30, 0.15, 0.00, 0.10, 0.25, 0.50, 0.55, 0.35,
  0.25, 0.30, 0.35, 0.30, 0.20, 0.25, 0.15, 0.10, 0.40, 0.35,
  0.30, 0.25, 0.20, 0.30, 0.35, 0.30, 0.25, 0.20, 0.00, 0.10,
  0.35, 0.25, 0.20, 0.30, 0.35, 0.40, 0.30, 0.25, 0.20, 0.35,
  0.30, 0.25, 0.20, 0.40, 0.45, 0.30, 0.25, 0.25, 0.20, 0.40,
  0.45, 0.25, 0.30, 0.15, 0.10, 0.20, 0.30, 0.30, 0.15, 0.20,
  0.25, 0.30, 0.25, 0.20, 0.00, 0.05, 0.30, 0.25, 0.20, 0.15,
  -0.05, 0.10, 0.25, 0.15, 0.25
];
const pxWigDcc = [
  0.65, 0.69, 0.68, 0.69, 0.66, 0.68, 0.67, 0.66, 0.60, 0.60,
  0.56, 0.61, 0.64, 0.64, 0.61, 0.65, 0.70, 0.69, 0.70, 0.65,
  0.62, 0.69, 0.68, 0.68, 0.68, 0.70, 0.68, 0.63, 0.62, 0.62,
  0.60, 0.60, 0.58, 0.62, 0.65, 0.64, 0.60, 0.62, 0.64, 0.65,
  0.63, 0.62, 0.70, 0.68, 0.65, 0.64, 0.65, 0.68, 0.67, 0.71,
  0.68, 0.66, 0.64, 0.60, 0.58, 0.60, 0.62, 0.62, 0.63
];

const FONT = '"Liberation Sans", Arial, Helvetica, sans-serif';

// plot-area placement of each panel on the page
const panels = [
  { title: pairTitles[0], r30: [buxDax30, buxDax30Mid], r5: [buxDax5, buxDax5Mid], dcc: buxDaxDcc, yMin: -0.8, yMax: 1.3, left: 54, top: 43, h: 219 },
  { title: pairTitles[1], r30: [buxPx30, buxPx30Mid], r5: [buxPx5, buxPx5Mid], dcc: buxPxDcc, yMin: -0.8, yMax: 1.2, left: 583, top: 43, h: 219 },
  { title: pairTitles[2], r30: [buxWig30, buxWig30Mid], r5: [buxWig5, buxWig5Mid], dcc: buxWigDcc, yMin: -0.7, yMax: 1.2, left: 54, top: 372, h: 221 },
  { title: pairTitles[3], r30: [daxPx30, daxPx30Mid], r5: [daxPx5, daxPx5Mid], dcc: daxPxDcc, yMin: -0.86, yMax: 1.19, left: 583, top: 372, h: 221 },
  { title: pairTitles[4], r30: [daxWig30, daxWig30Mid], r5: [daxWig5, daxWig5Mid], dcc: daxWigDcc, yMin: -0.5, yMax: 1.2, left: 54, top: 703, h: 220 },
  { title: pairTitles[5], r30: [pxWig30, pxWig30Mid], r5: [pxWig5, pxWig5Mid], dcc: pxWigDcc, yMin: -0.7, yMax: 1.2, left: 583, top: 703, h: 220 }
];

const PLOT_W = 400, Y_AXIS_W = 60, X_AXIS_H = 40, TITLE_H = 43, RIGHT_PAD = 26;

// grey axes background, black box and inward ticks on all four sides
const matlabAxes = {
  id: 'matlabAxes',
  beforeDraw(chart) {
    const { ctx, chartArea: a } = chart;
    ctx.save();
    ctx.fillStyle = '#cccccc';
    ctx.fillRect(a.left, a.top, a.right - a.left, a.bottom - a.top);
    ctx.restore();
  },
  afterDatasetsDraw(chart) {
    const { ctx, chartArea: a, scales } = chart;
    const tl = 4.5;
    ctx.save();
    ctx.strokeStyle = '#000';
    ctx.lineWidth = 1;
    ctx.beginPath();
    scales.x.ticks.forEach(t => {
      const px = Math.round(scales.x.getPixelForValue(t.value)) + 0.5;
      ctx.moveTo(px, a.bottom); ctx.lineTo(px, a.bottom - tl);
      ctx.moveTo(px, a.top); ctx.lineTo(px, a.top + tl);
    });
    scales.y.ticks.forEach(t => {
      const py = Math.round(scales.y.getPixelForValue(t.value)) + 0.5;
      ctx.moveTo(a.left, py); ctx.lineTo(a.left + tl, py);
      ctx.moveTo(a.right, py); ctx.lineTo(a.right - tl, py);
    });
    ctx.stroke();
    ctx.strokeRect(a.left + 0.5, a.top + 0.5, a.right - a.left - 1, a.bottom - a.top - 1);
    ctx.restore();
  }
};

const pairs = (dates, vals) => vals.map((v, i) => ({ x: dates[i], y: v }));
// main and in-between reads merged into one time-ordered series
const merged = ([main, mid]) =>
  pairs(rbpcDates, main).concat(pairs(rbpcMidDates, mid)).sort((p, q) => p.x - q.x);

panels.forEach(p => {
  const cv = document.createElement('canvas');
  cv.width = Y_AXIS_W + PLOT_W + RIGHT_PAD;
  cv.height = TITLE_H + p.h + X_AXIS_H;
  cv.style.left = (p.left - Y_AXIS_W) + 'px';
  cv.style.top = (p.top - TITLE_H) + 'px';
  document.body.appendChild(cv);

  new Chart(cv, {
    type: 'line',
    data: {
      datasets: [
        { label: seriesNames[2], data: pairs(dccDates, p.dcc), borderColor: seriesColors[2], borderWidth: 1.5 },
        { label: seriesNames[1], data: merged(p.r5), borderColor: seriesColors[1], borderWidth: 1.5 },
        { label: seriesNames[0], data: merged(p.r30), borderColor: seriesColors[0], borderWidth: 1.5 }
      ]
    },
    options: {
      responsive: false,
      animation: false,
      layout: { padding: { left: 0, right: RIGHT_PAD, top: 0, bottom: 0 } },
      elements: {
        point: { radius: 0 },
        line: { tension: 0, borderJoinStyle: 'round', fill: false }
      },
      plugins: {
        legend: { display: false },
        tooltip: { enabled: false },
        title: {
          display: true,
          fullSize: false,
          text: p.title,
          color: '#000',
          font: { family: FONT, size: 20.5, weight: 'normal', lineHeight: 1.2 },
          padding: { top: 5.7, bottom: 12.7 }
        }
      },
      scales: {
        x: {
          type: 'linear',
          min: 2008,
          max: 2011,
          grid: { display: false, drawTicks: false },
          border: { display: false },
          afterBuildTicks: s => { s.ticks = yearTicks.map(v => ({ value: v })); },
          afterFit: s => { s.height = X_AXIS_H; },
          ticks: {
            color: '#000',
            font: { family: FONT, size: 20.5 },
            padding: 5,
            maxRotation: 0,
            autoSkip: false,
            callback: v => String(v)
          }
        },
        y: {
          min: p.yMin,
          max: p.yMax,
          grid: { display: false, drawTicks: false },
          border: { display: false },
          afterBuildTicks: s => { s.ticks = corrTicks.map(v => ({ value: v })); },
          afterFit: s => { s.width = Y_AXIS_W; },
          ticks: {
            color: '#000',
            font: { family: FONT, size: 20.5 },
            padding: 7,
            callback: v => String(v)
          }
        }
      }
    },
    plugins: [matlabAxes]
  });
});

// shared legend box at the bottom
const legendPos = [
  { line: 13, w: 66, text: 88 },
  { line: 209, w: 68, text: 286 },
  { line: 396, w: 68, text: 474 }
];
const legend = document.getElementById('legend');
seriesNames.forEach((name, k) => {
  const ln = document.createElement('div');
  ln.className = 'ln';
  ln.style.left = legendPos[k].line + 'px';
  ln.style.width = legendPos[k].w + 'px';
  ln.style.borderTopColor = seriesColors[k];
  legend.appendChild(ln);
  const tx = document.createElement('span');
  tx.className = 'tx';
  tx.style.left = legendPos[k].text + 'px';
  tx.textContent = name;
  legend.appendChild(tx);
});
</script>
</body>
</html>
